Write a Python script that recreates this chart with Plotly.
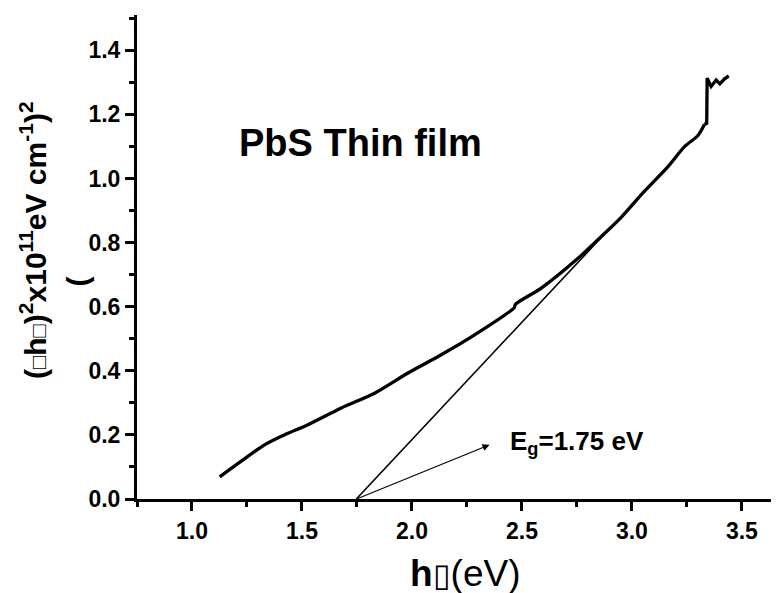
import plotly.graph_objects as go

# Measured curve (alpha h nu)^2 vs h nu  -- smooth part
hv = [1.126, 1.224, 1.33, 1.42, 1.527, 1.679, 1.83, 1.982, 2.133, 2.285,
      2.465, 2.47, 2.588, 2.755, 2.85, 2.95, 3.05, 3.164, 3.24, 3.30, 3.33]
ahv2 = [0.069, 0.118, 0.169, 0.200, 0.232, 0.284, 0.330, 0.393, 0.450, 0.512,
        0.597, 0.607, 0.658, 0.751, 0.812, 0.878, 0.955, 1.037, 1.100, 1.134, 1.169]
# noisy high-energy tail (after the jump)
hv_tail = [3.33, 3.34, 3.342, 3.36, 3.383, 3.40, 3.42, 3.44]
ahv2_tail = [1.169, 1.172, 1.313, 1.287, 1.307, 1.295, 1.310, 1.320]

# Tangent (linear extrapolation) line
tan_x = [1.747, 2.88]
tan_y = [0.0, 0.83]

# Arrow / label
eg_value = 1.75
arrow_tail = (1.747, 0.0)
arrow_head = (2.353, 0.169)

x_ticks = [1.0, 1.5, 2.0, 2.5, 3.0, 3.5]
y_ticks = [0.0, 0.2, 0.4, 0.6, 0.8, 1.0, 1.2, 1.4]

FONT = "Liberation Sans"

fig = go.Figure()
fig.add_trace(go.Scatter(x=hv, y=ahv2, mode="lines",
                         line=dict(color="black", width=3.3, shape="spline", smoothing=0.8),
                         showlegend=False))
fig.add_trace(go.Scatter(x=hv_tail, y=ahv2_tail, mode="lines",
                         line=dict(color="black", width=3.3), showlegend=False))
fig.add_trace(go.Scatter(x=tan_x, y=tan_y, mode="lines",
                         line=dict(color="black", width=1.6), showlegend=False))

axis_common = dict(showline=True, linecolor="black", linewidth=3,
                   ticks="outside", tickcolor="black", tickwidth=3, ticklen=9,
                   showgrid=False, zeroline=False, mirror=False,
                   tickfont=dict(family=FONT, size=23, color="black", weight="bold"),
                   tickformat=".1f")

fig.update_layout(
    width=779, height=593,
    margin=dict(l=129, r=0, t=7, b=102),
    paper_bgcolor="white", plot_bgcolor="white",
    xaxis=dict(range=[0.75, 3.705], tickvals=x_ticks,
               minor=dict(dtick=0.25, tick0=0, ticks="outside", ticklen=5,
                          tickwidth=2.5, tickcolor="black"),
               **axis_common),
    yaxis=dict(range=[0, 1.51], tickvals=y_ticks,
               minor=dict(dtick=0.1, tick0=0, ticks="outside", ticklen=5,
                          tickwidth=2.5, tickcolor="black"),
               **axis_common),
)

# Title text inside plot
fig.add_annotation(x=1.765, y=1.11, xref="x", yref="y", showarrow=False,
                   text="<b>PbS Thin film</b>",
                   font=dict(family=FONT, size=38, color="black"))

# Arrow with Eg label
fig.add_annotation(x=arrow_head[0], y=arrow_head[1], ax=arrow_tail[0], ay=arrow_tail[1],
                   xref="x", yref="y", axref="x", ayref="y", text="",
                   showarrow=True, arrowhead=2, arrowsize=1.3, arrowwidth=1.1,
                   arrowcolor="black")
fig.add_annotation(x=2.435, y=0.175, xref="x", yref="y", showarrow=False,
                   xanchor="left", yanchor="middle",
                   text="<b>E<sub>g</sub>=%.2f eV</b>" % eg_value,
                   font=dict(family=FONT, size=26, color="black"))

# Y axis title (as annotations)
fig.add_annotation(x=-0.16, y=0.535, xref="paper", yref="paper", showarrow=False,
                   textangle=-90, xanchor="center", yanchor="middle",
                   text="<b>(<span style='font-size:22px'>□</span>h<span style='font-size:22px'>□</span>)<sup>2</sup>x10<sup>11</sup>eV cm<sup>-1</sup>)<sup>2</sup></b>",
                   font=dict(family=FONT, size=30, color="black"))
fig.add_annotation(x=-0.092, y=0.45, xref="paper", yref="paper", showarrow=False,
                   textangle=-90, xanchor="center", yanchor="middle",
                   text="<b>(</b>",
                   font=dict(family=FONT, size=30, color="black"))

# X axis title
fig.add_annotation(x=0.505, y=-0.2, xref="paper", yref="paper", showarrow=False,
                   xanchor="center", yanchor="bottom",
                   text="<b>h</b><span style='font-size:32px'>▯</span>(eV)",
                   font=dict(family=FONT, size=37, color="black"))

fig.write_html("out.html")
